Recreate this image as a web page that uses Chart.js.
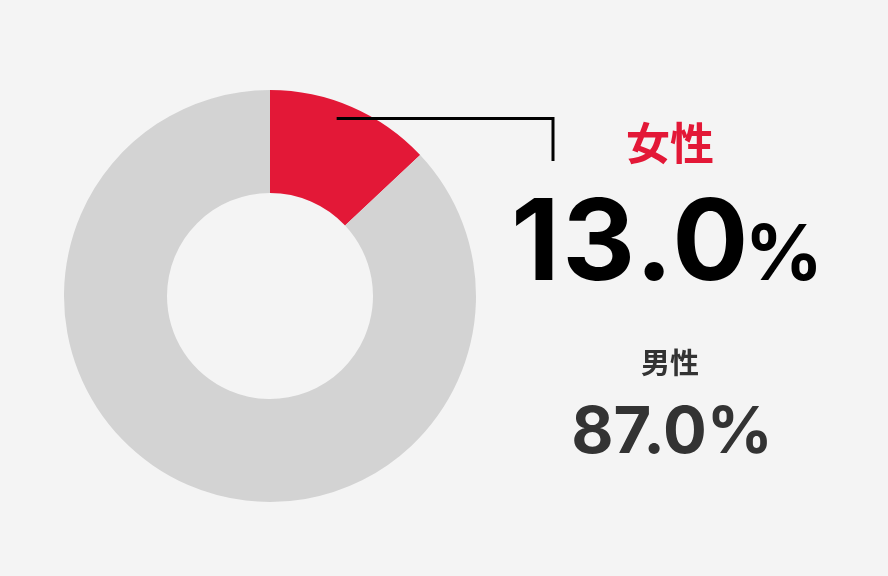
<!DOCTYPE html>
<html lang="ja">
<head>
<meta charset="utf-8">
<script src="https://cdn.jsdelivr.net/npm/chart.js@4/dist/chart.umd.min.js"></script>
<style>
  html, body { margin: 0; padding: 0; background: #f4f4f4; }
  .wrap { position: relative; width: 888px; height: 576px; overflow: hidden; }
  canvas { position: absolute; left: 0; top: 0; }
  .label {
    position: absolute;
    font-family: Inter, "Noto Sans CJK JP", sans-serif;
    font-weight: 700;
    text-align: center;
    white-space: nowrap;
    line-height: 1;
  }
  #femaleName { left: 570px; top: 122px; width: 200px; font-size: 44px; color: #e31837; }
  #femaleValue { left: 467px; top: 183px; width: 400px; font-size: 113px; color: #000; letter-spacing: 2.5px; }
  #femaleValue small { font-size: 77px; letter-spacing: 0; margin-left: -6px; }
  #maleName { left: 570px; top: 349px; width: 200px; font-size: 29px; color: #333; }
  #maleValue { left: 472px; top: 397px; width: 400px; font-size: 65px; color: #333; }
</style>
</head>
<body>
<div class="wrap">
  <canvas id="chart" width="888" height="576"></canvas>
  <div class="label" id="femaleName"></div>
  <div class="label" id="femaleValue"></div>
  <div class="label" id="maleName"></div>
  <div class="label" id="maleValue"></div>
</div>
<script>
const categories = ["女性", "男性"];
const shares = [13.0, 87.0];
const sliceColors = ["#e31837", "#d3d3d3"];

// text on the right
document.getElementById("femaleName").textContent = categories[0];
document.getElementById("femaleValue").innerHTML =
  shares[0].toFixed(1) + "<small>%</small>";
document.getElementById("maleName").textContent = categories[1];
document.getElementById("maleValue").textContent = shares[1].toFixed(1) + "%";

// leader line from the red slice to the label
const leaderLine = {
  id: "leaderLine",
  afterDatasetsDraw(chart) {
    const arc = chart.getDatasetMeta(0).data[0];
    if (!arc) return;
    const a = arc.startAngle + (arc.endAngle - arc.startAngle) * 0.44;
    const r = arc.outerRadius * 0.92;
    const x0 = arc.x + Math.cos(a) * r;
    const y0 = arc.y + Math.sin(a) * r;
    const ctx = chart.ctx;
    ctx.save();
    ctx.strokeStyle = "#000";
    ctx.lineWidth = 3;
    ctx.beginPath();
    ctx.moveTo(x0, y0);
    ctx.lineTo(553, y0);
    ctx.lineTo(553, 161);
    ctx.stroke();
    ctx.restore();
  },
};

new Chart(document.getElementById("chart"), {
  type: "doughnut",
  data: {
    labels: categories,
    datasets: [
      {
        data: shares,
        backgroundColor: sliceColors,
        borderWidth: 0,
        hoverOffset: 0,
      },
    ],
  },
  options: {
    responsive: false,
    animation: false,
    cutout: "50%",
    layout: { padding: { left: 64, top: 90, right: 412, bottom: 74 } },
    plugins: {
      legend: { display: false },
      tooltip: { enabled: false },
    },
  },
  plugins: [leaderLine],
});
</script>
</body>
</html>
